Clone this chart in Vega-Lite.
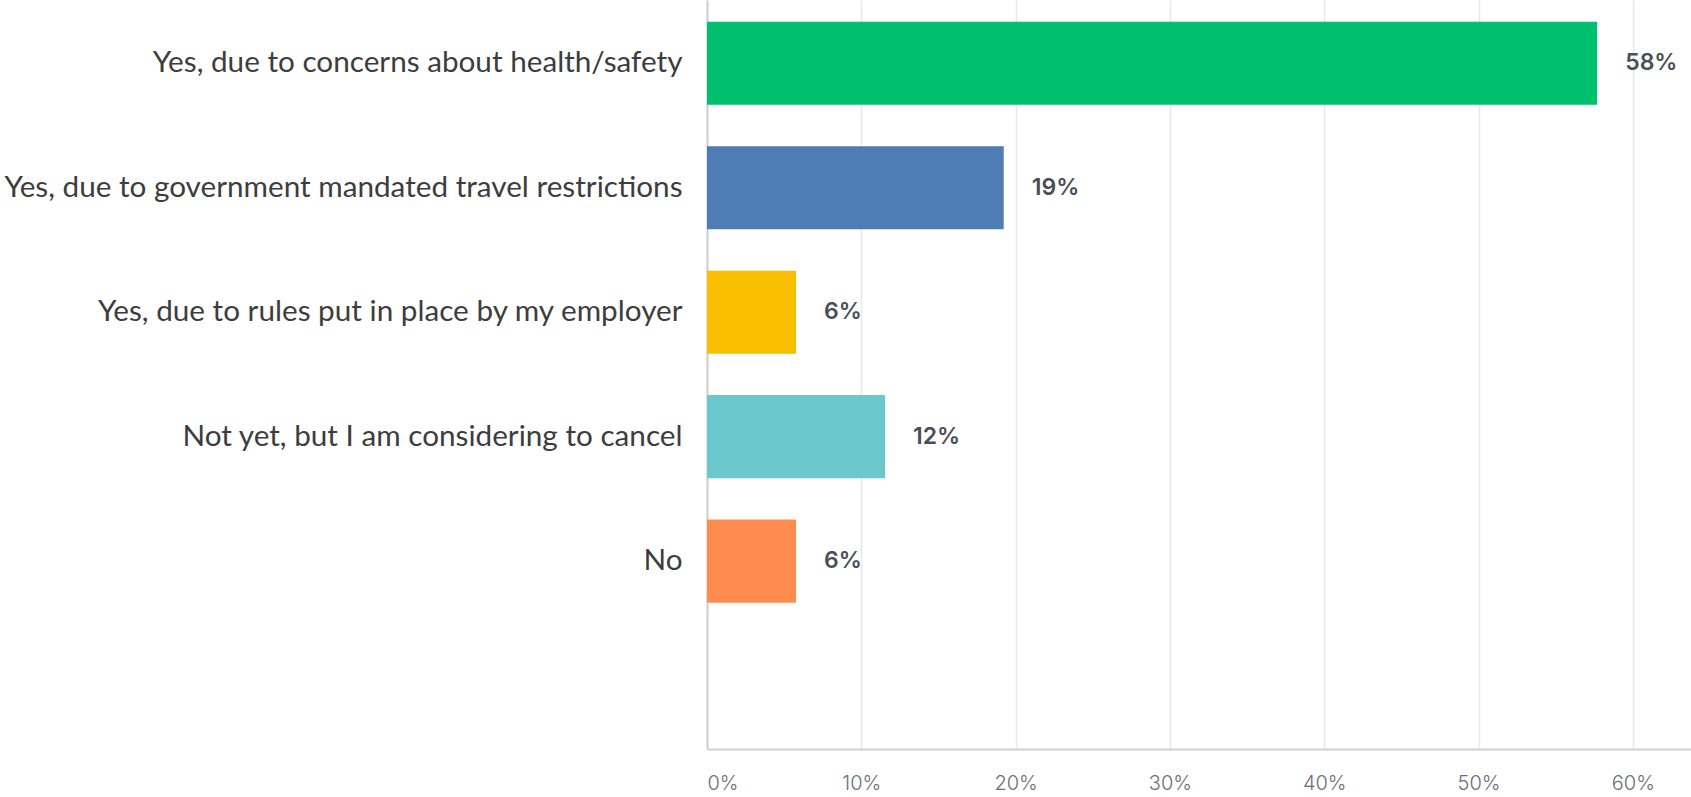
{
  "$schema": "https://vega.github.io/schema/vega-lite/v6.json",
  "autosize": "none",
  "width": 984,
  "height": 749,
  "padding": {"left": 707, "top": 0, "right": 0, "bottom": 48},
  "background": "white",
  "data": {
    "values": [
      {"answer": "Yes, due to concerns about health/safety", "share": 0.5769, "color": "#00BF6F"},
      {"answer": "Yes, due to government mandated travel restrictions", "share": 0.1923, "color": "#507CB6"},
      {"answer": "Yes, due to rules put in place by my employer", "share": 0.0577, "color": "#F9BE00"},
      {"answer": "Not yet, but I am considering to cancel", "share": 0.1154, "color": "#6BC8CD"},
      {"answer": "No", "share": 0.0577, "color": "#FF8B4F"}
    ]
  },
  "encoding": {
    "y": {
      "field": "answer",
      "type": "nominal",
      "sort": null,
      "scale": {"paddingInner": 0.333, "paddingOuter": 0.675, "align": 0.129},
      "axis": {
        "title": null,
        "ticks": false,
        "domain": true,
        "domainColor": "#cfcfcf",
        "domainWidth": 2,
        "labelFont": "Lato",
        "labelFontSize": 29.7,
        "labelColor": "#3d3d3d",
        "labelPadding": 25,
        "labelLimit": 800,
        "grid": false
      }
    },
    "x": {
      "field": "share",
      "type": "quantitative",
      "scale": {"domain": [0, 0.6377], "nice": false, "zero": true},
      "axis": {
        "title": null,
        "values": [0, 0.1, 0.2, 0.3, 0.4, 0.5, 0.6],
        "format": ".0%",
        "ticks": false,
        "domainColor": "#cfcfcf",
        "domainWidth": 2,
        "grid": true,
        "gridColor": "#e8e8e8",
        "gridWidth": 1.5,
        "labelFlush": true,
        "labelFont": "Inter",
        "labelFontSize": 20,
        "labelFontWeight": 300,
        "labelColor": "#6b6f75",
        "labelPadding": 24
      }
    }
  },
  "layer": [
    {
      "mark": {"type": "bar"},
      "encoding": {
        "color": {"field": "color", "type": "nominal", "scale": null}
      }
    },
    {
      "mark": {
        "type": "text",
        "align": "left",
        "baseline": "middle",
        "dx": 28,
        "font": "Inter",
        "fontSize": 23,
        "fontWeight": 600,
        "color": "#4a4f57"
      },
      "encoding": {
        "text": {"field": "share", "type": "quantitative", "format": ".0%"}
      }
    }
  ],
  "config": {"view": {"stroke": null}}
}
